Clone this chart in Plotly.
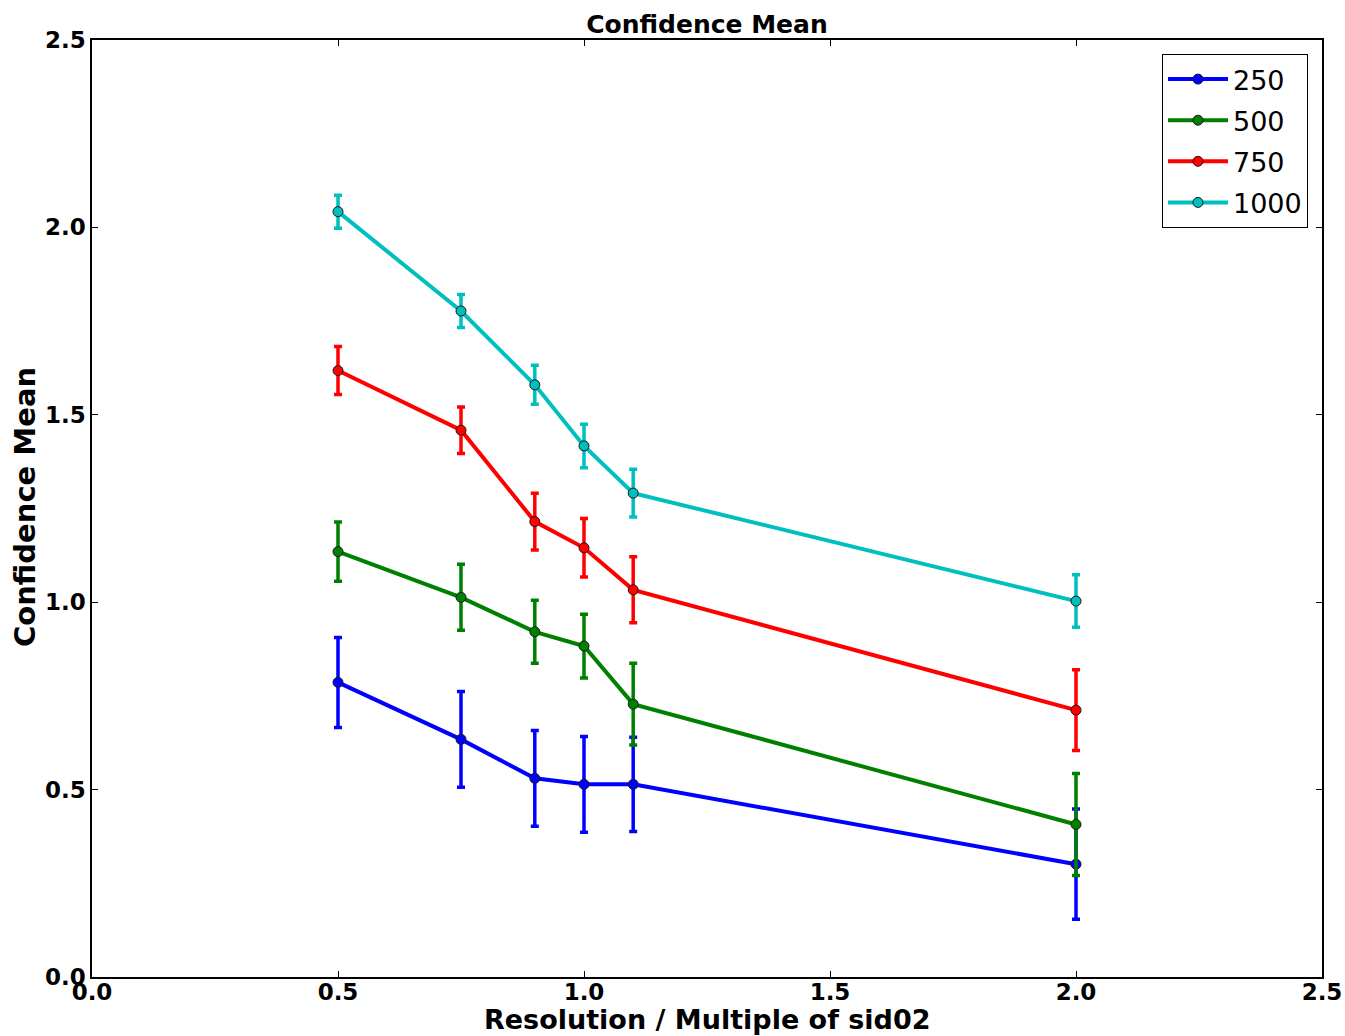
import plotly.graph_objects as go

# Resolution as a multiple of sid02
resolution = [0.5, 0.75, 0.9, 1.0, 1.1, 2.0]

# Confidence mean and its error per sample count
series_names = ["250", "500", "750", "1000"]
mean_250 = [0.786, 0.634, 0.530, 0.514, 0.514, 0.301]
err_250 = [0.120, 0.128, 0.128, 0.128, 0.126, 0.147]
mean_500 = [1.135, 1.013, 0.921, 0.883, 0.728, 0.407]
err_500 = [0.079, 0.088, 0.084, 0.085, 0.109, 0.136]
mean_750 = [1.618, 1.459, 1.215, 1.145, 1.033, 0.712]
err_750 = [0.064, 0.062, 0.076, 0.078, 0.088, 0.108]
mean_1000 = [2.042, 1.777, 1.580, 1.417, 1.291, 1.003]
err_1000 = [0.044, 0.044, 0.052, 0.058, 0.064, 0.070]

colors = ["#0000ff", "#008000", "#ff0000", "#00bfbf"]
means = [mean_250, mean_500, mean_750, mean_1000]
errors = [err_250, err_500, err_750, err_1000]

FONT = "DejaVu Sans"
W, H = 1345, 1036
ML, MR, MT, MB = 92, 23, 40, 59
PW, PH = W - ML - MR, H - MT - MB

fig = go.Figure()
for name, y, e, c in zip(series_names, means, errors, colors):
    fig.add_trace(go.Scatter(
        x=resolution, y=y, name=name, legendgroup=name,
        mode="lines+markers",
        line=dict(color=c, width=4),
        marker=dict(color=c, size=10, line=dict(color="#1a1a1a", width=1)),
        error_y=dict(type="data", array=e, visible=True, color=c,
                     thickness=3.5, width=4),
    ))

axis_common = dict(
    showgrid=False, zeroline=False, automargin=False,
    showline=True, linecolor="black", linewidth=1.5, mirror="allticks",
    ticks="inside", ticklen=6, tickwidth=1, tickcolor="black",
    tickfont=dict(family=FONT, size=23, color="black", weight="bold"),
    range=[0, 2.5], dtick=0.5, tickformat=".1f",
)

ytitle_font = dict(family=FONT, size=29, color="black", weight="bold")
xtitle_font = dict(family=FONT, size=27, color="black", weight="bold")

fig.update_layout(
    width=W, height=H,
    margin=dict(l=ML, r=MR, t=MT, b=MB),
    paper_bgcolor="white", plot_bgcolor="white",
    title=dict(text="Confidence Mean", x=0.5, xref="paper",
               y=1 - 24 / H, yref="container", yanchor="middle",
               font=dict(family=FONT, size=25, color="black", weight="bold")),
    xaxis=dict(axis_common, ticklabelstandoff=-6),
    yaxis=dict(axis_common, ticklabelstandoff=0),
    legend=dict(x=0.9886, xanchor="right", y=0.985, yanchor="top",
                bgcolor="white", bordercolor="black", borderwidth=1,
                font=dict(family=FONT, size=27, color="black"),
                itemwidth=60,
                traceorder="grouped", tracegroupgap=3),
    showlegend=True,
    annotations=[
        dict(text="Resolution / Multiple of sid02", showarrow=False,
             xref="paper", yref="paper", x=0.5, y=-MB / PH,
             xanchor="center", yanchor="bottom", borderpad=0,
             font=xtitle_font),
        dict(text="Confidence Mean", showarrow=False, textangle=-90,
             xref="paper", yref="paper", x=-67 / PW, y=0.5016,
             xanchor="center", yanchor="middle", font=ytitle_font),
    ],
)

fig.write_html("out.html")
